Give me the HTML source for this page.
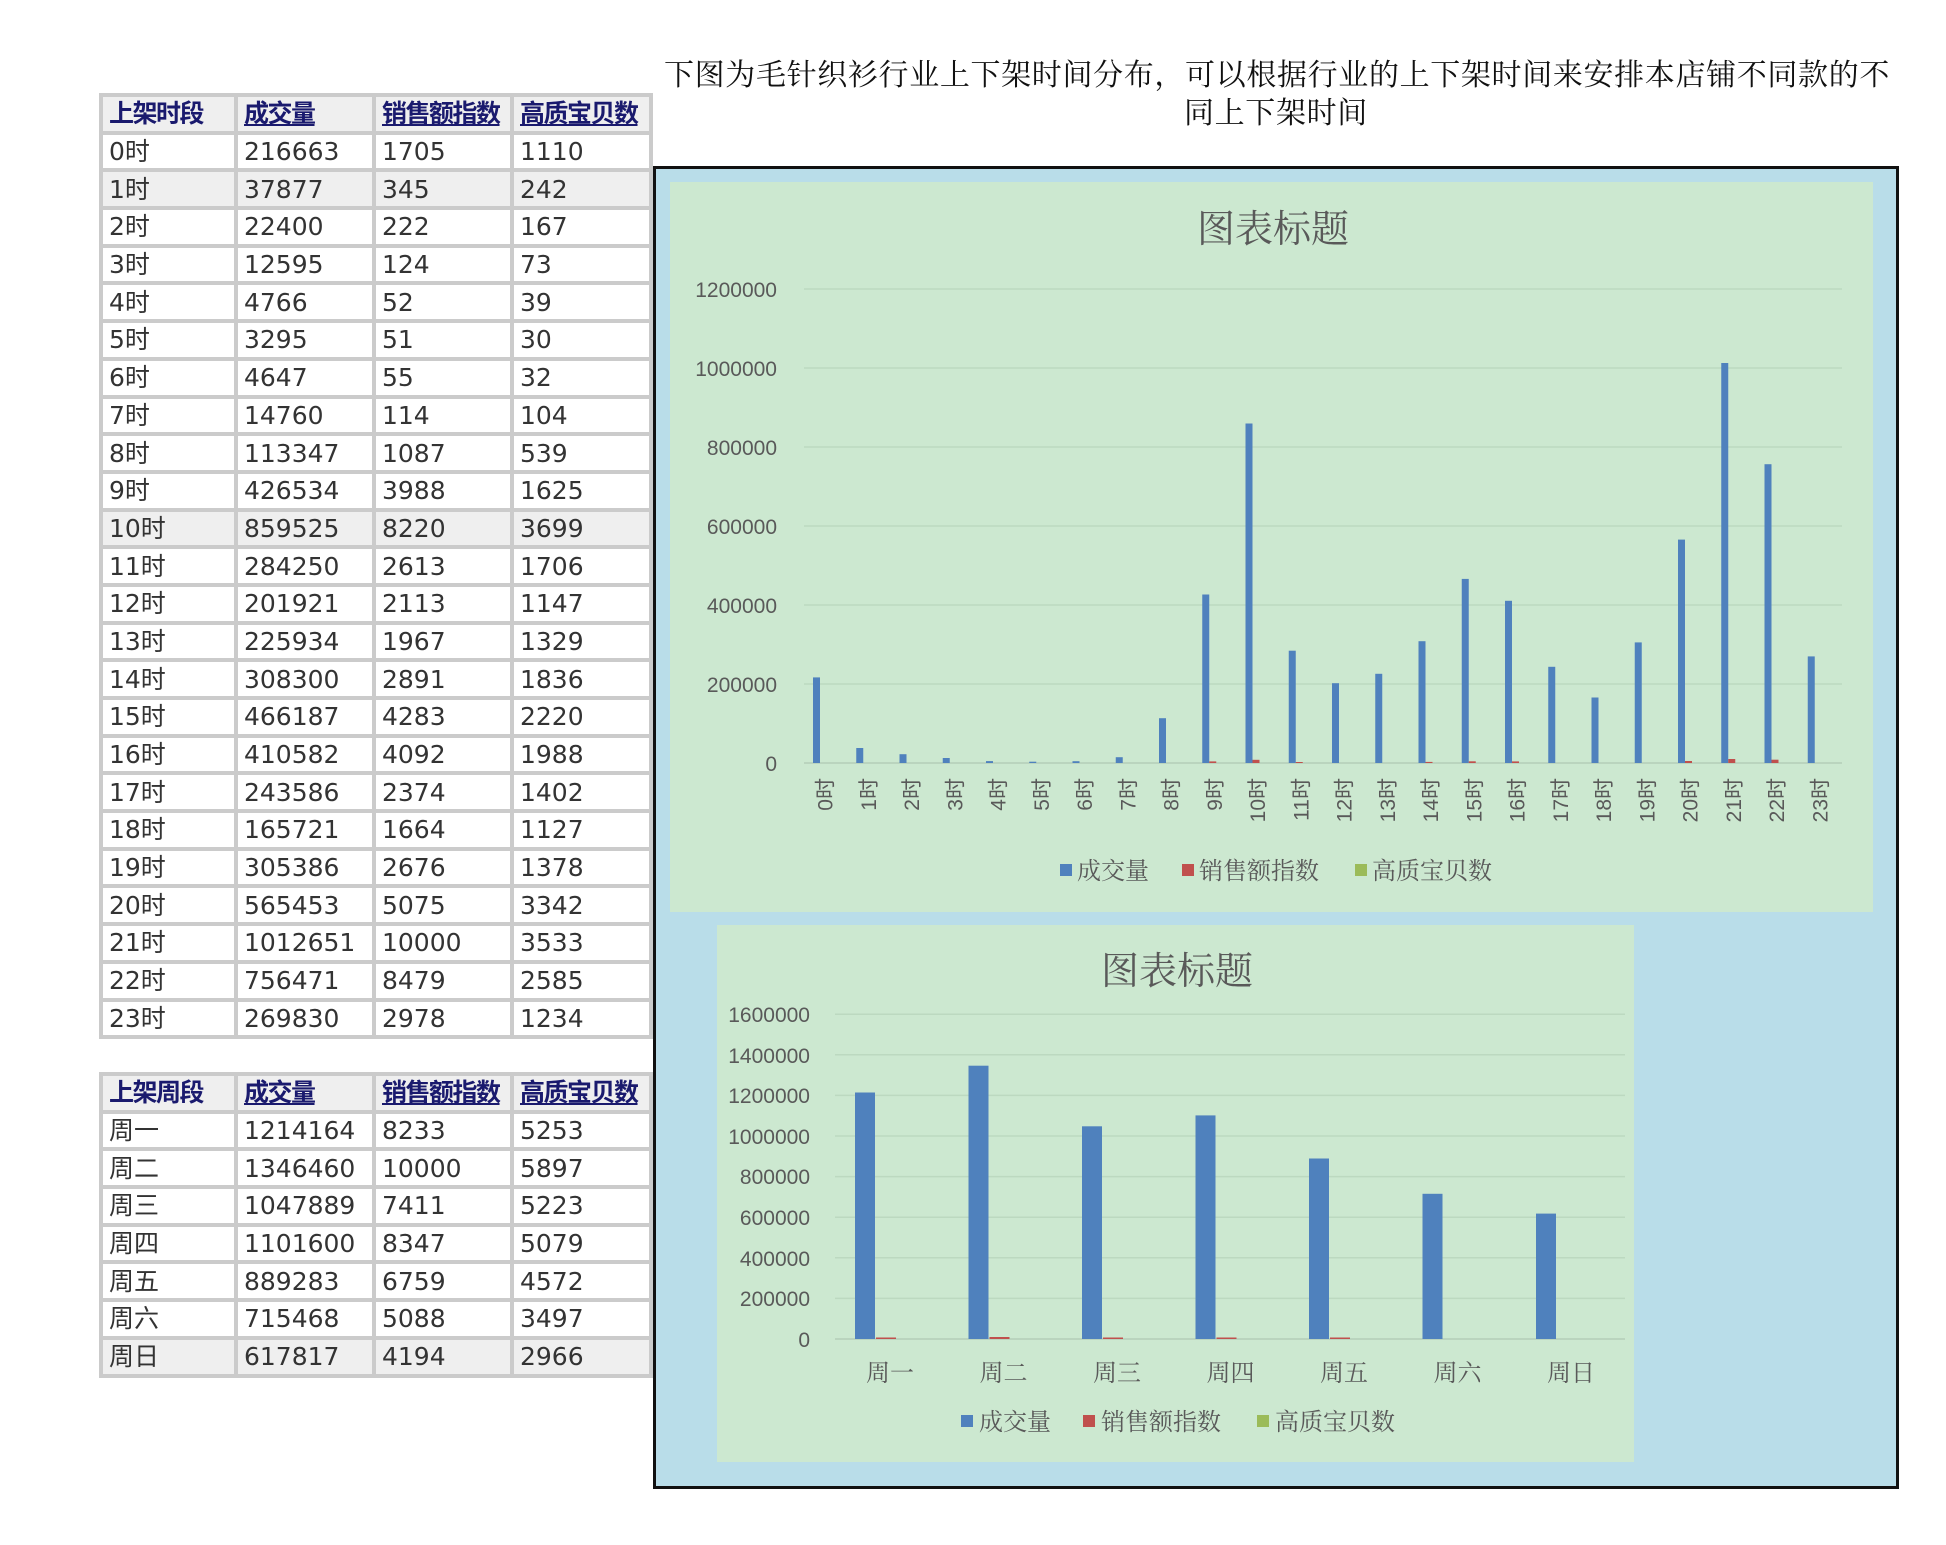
<!DOCTYPE html>
<html><head><meta charset="utf-8">
<style>
body{margin:0;width:1946px;height:1545px;background:#fff;position:relative;overflow:hidden;font-family:"DejaVu Sans","Noto Sans CJK SC",sans-serif;}
.hdr{position:absolute;font-family:"Liberation Serif","Noto Serif CJK SC",serif;font-size:30px;line-height:39px;letter-spacing:0.65px;color:#111;white-space:nowrap;}
.box{position:absolute;left:653px;top:166px;width:1240px;height:1317px;border:3px solid #111;background:#b9dde9;}
table{position:absolute;left:99px;border-collapse:separate;border-spacing:4px;background:#cbcbcb;table-layout:fixed;width:554px;}
td{background:#fff;height:33.7px;padding:0 0 0 6px;font-size:25px;color:#333;white-space:nowrap;overflow:hidden;line-height:33px;}
tr.g td{background:#efefef;}
th{background:#efefef;height:33.7px;padding:0 0 0 6px;text-align:left;font-size:25px;font-weight:bold;color:#1a1a6e;text-decoration:underline;white-space:nowrap;overflow:hidden;line-height:33px;letter-spacing:-1.5px;}
th:first-child{text-decoration:none;}
svg{position:absolute;left:0;top:0;}
</style></head><body>
<div class="hdr" style="left:664px;top:56px;">下图为毛针织衫行业上下架时间分布，可以根据行业的上下架时间来安排本店铺不同款的不</div>
<div class="hdr" style="left:1184px;top:94px;">同上下架时间</div>
<div class="box"></div>

<table style="top:93px;">
<colgroup><col style="width:131px"><col style="width:134px"><col style="width:134px"><col style="width:135px"></colgroup>
<tr><th>上架时段</th><th>成交量</th><th>销售额指数</th><th>高质宝贝数</th></tr>
<tr><td>0时</td><td>216663</td><td>1705</td><td>1110</td></tr>
<tr class="g"><td>1时</td><td>37877</td><td>345</td><td>242</td></tr>
<tr><td>2时</td><td>22400</td><td>222</td><td>167</td></tr>
<tr><td>3时</td><td>12595</td><td>124</td><td>73</td></tr>
<tr><td>4时</td><td>4766</td><td>52</td><td>39</td></tr>
<tr><td>5时</td><td>3295</td><td>51</td><td>30</td></tr>
<tr><td>6时</td><td>4647</td><td>55</td><td>32</td></tr>
<tr><td>7时</td><td>14760</td><td>114</td><td>104</td></tr>
<tr><td>8时</td><td>113347</td><td>1087</td><td>539</td></tr>
<tr><td>9时</td><td>426534</td><td>3988</td><td>1625</td></tr>
<tr class="g"><td>10时</td><td>859525</td><td>8220</td><td>3699</td></tr>
<tr><td>11时</td><td>284250</td><td>2613</td><td>1706</td></tr>
<tr><td>12时</td><td>201921</td><td>2113</td><td>1147</td></tr>
<tr><td>13时</td><td>225934</td><td>1967</td><td>1329</td></tr>
<tr><td>14时</td><td>308300</td><td>2891</td><td>1836</td></tr>
<tr><td>15时</td><td>466187</td><td>4283</td><td>2220</td></tr>
<tr><td>16时</td><td>410582</td><td>4092</td><td>1988</td></tr>
<tr><td>17时</td><td>243586</td><td>2374</td><td>1402</td></tr>
<tr><td>18时</td><td>165721</td><td>1664</td><td>1127</td></tr>
<tr><td>19时</td><td>305386</td><td>2676</td><td>1378</td></tr>
<tr><td>20时</td><td>565453</td><td>5075</td><td>3342</td></tr>
<tr><td>21时</td><td>1012651</td><td>10000</td><td>3533</td></tr>
<tr><td>22时</td><td>756471</td><td>8479</td><td>2585</td></tr>
<tr><td>23时</td><td>269830</td><td>2978</td><td>1234</td></tr>
</table>

<table style="top:1072px;">
<colgroup><col style="width:131px"><col style="width:134px"><col style="width:134px"><col style="width:135px"></colgroup>
<tr><th>上架周段</th><th>成交量</th><th>销售额指数</th><th>高质宝贝数</th></tr>
<tr><td>周一</td><td>1214164</td><td>8233</td><td>5253</td></tr>
<tr><td>周二</td><td>1346460</td><td>10000</td><td>5897</td></tr>
<tr><td>周三</td><td>1047889</td><td>7411</td><td>5223</td></tr>
<tr><td>周四</td><td>1101600</td><td>8347</td><td>5079</td></tr>
<tr><td>周五</td><td>889283</td><td>6759</td><td>4572</td></tr>
<tr><td>周六</td><td>715468</td><td>5088</td><td>3497</td></tr>
<tr class="g"><td>周日</td><td>617817</td><td>4194</td><td>2966</td></tr>
</table>

<svg width="1946" height="1545" viewBox="0 0 1946 1545" font-family="Liberation Sans, Noto Sans CJK SC, sans-serif">
<!-- chart 1 -->
<rect x="670" y="182" width="1203" height="730" fill="#cce8d0"/>
<text x="1273" y="242" font-size="38" fill="#595959" text-anchor="middle" font-family="Liberation Serif, Noto Serif CJK SC, serif">图表标题</text>
<g stroke="#bcd9c0" stroke-width="1.5">
<line x1="804" y1="289" x2="1842" y2="289"/><line x1="804" y1="368" x2="1842" y2="368"/><line x1="804" y1="447" x2="1842" y2="447"/><line x1="804" y1="526" x2="1842" y2="526"/><line x1="804" y1="605" x2="1842" y2="605"/><line x1="804" y1="684" x2="1842" y2="684"/><line x1="804" y1="763" x2="1842" y2="763" stroke="#b4ceb8"/>
</g>
<g font-size="21" fill="#595959" text-anchor="end">
<text x="777" y="297">1200000</text><text x="777" y="376">1000000</text><text x="777" y="455">800000</text><text x="777" y="534">600000</text><text x="777" y="613">400000</text><text x="777" y="692">200000</text><text x="777" y="771">0</text>
</g>
<g fill="#4f81bd">
<rect x="813" y="677.4" width="7" height="85.6"/>
<rect x="856.25" y="748" width="7" height="15"/>
<rect x="899.5" y="754.2" width="7" height="8.8"/>
<rect x="942.75" y="758" width="7" height="5"/>
<rect x="986" y="761.1" width="7" height="1.9"/>
<rect x="1029.25" y="761.7" width="7" height="1.3"/>
<rect x="1072.5" y="761.2" width="7" height="1.8"/>
<rect x="1115.75" y="757.2" width="7" height="5.8"/>
<rect x="1159" y="718.2" width="7" height="44.8"/>
<rect x="1202.25" y="594.5" width="7" height="168.5"/>
<rect x="1245.5" y="423.5" width="7" height="339.5"/>
<rect x="1288.75" y="650.7" width="7" height="112.3"/>
<rect x="1332" y="683.2" width="7" height="79.8"/>
<rect x="1375.25" y="673.8" width="7" height="89.2"/>
<rect x="1418.5" y="641.2" width="7" height="121.8"/>
<rect x="1461.75" y="578.9" width="7" height="184.1"/>
<rect x="1505" y="600.8" width="7" height="162.2"/>
<rect x="1548.25" y="666.8" width="7" height="96.2"/>
<rect x="1591.5" y="697.5" width="7" height="65.5"/>
<rect x="1634.75" y="642.4" width="7" height="120.6"/>
<rect x="1678" y="539.6" width="7" height="223.4"/>
<rect x="1721.25" y="363" width="7" height="400"/>
<rect x="1764.5" y="464.2" width="7" height="298.8"/>
<rect x="1807.75" y="656.4" width="7" height="106.6"/>
</g>
<g fill="#c0504d">
<rect x="1209.25" y="761.4" width="7" height="1.6"/>
<rect x="1252.5" y="759.8" width="7" height="3.2"/>
<rect x="1295.75" y="762" width="7" height="1"/>
<rect x="1425.5" y="761.9" width="7" height="1.1"/>
<rect x="1468.75" y="761.3" width="7" height="1.7"/>
<rect x="1512" y="761.4" width="7" height="1.6"/>
<rect x="1685" y="761" width="7" height="2"/>
<rect x="1728.25" y="759" width="7" height="4"/>
<rect x="1771.5" y="759.7" width="7" height="3.3"/>
</g>
<g font-size="21" fill="#595959" text-anchor="end">
<text transform="translate(832.6,778) rotate(-90)">0时</text>
<text transform="translate(875.9,778) rotate(-90)">1时</text>
<text transform="translate(919.1,778) rotate(-90)">2时</text>
<text transform="translate(962.4,778) rotate(-90)">3时</text>
<text transform="translate(1005.6,778) rotate(-90)">4时</text>
<text transform="translate(1048.9,778) rotate(-90)">5时</text>
<text transform="translate(1092.1,778) rotate(-90)">6时</text>
<text transform="translate(1135.4,778) rotate(-90)">7时</text>
<text transform="translate(1178.6,778) rotate(-90)">8时</text>
<text transform="translate(1221.9,778) rotate(-90)">9时</text>
<text transform="translate(1265.1,778) rotate(-90)">10时</text>
<text transform="translate(1308.4,778) rotate(-90)">11时</text>
<text transform="translate(1351.6,778) rotate(-90)">12时</text>
<text transform="translate(1394.9,778) rotate(-90)">13时</text>
<text transform="translate(1438.1,778) rotate(-90)">14时</text>
<text transform="translate(1481.4,778) rotate(-90)">15时</text>
<text transform="translate(1524.6,778) rotate(-90)">16时</text>
<text transform="translate(1567.9,778) rotate(-90)">17时</text>
<text transform="translate(1611.1,778) rotate(-90)">18时</text>
<text transform="translate(1654.4,778) rotate(-90)">19时</text>
<text transform="translate(1697.6,778) rotate(-90)">20时</text>
<text transform="translate(1740.9,778) rotate(-90)">21时</text>
<text transform="translate(1784.1,778) rotate(-90)">22时</text>
<text transform="translate(1827.4,778) rotate(-90)">23时</text>
</g>
<g font-size="24" fill="#595959" font-family="Liberation Serif, Noto Serif CJK SC, serif">
<rect x="1060" y="864" width="12" height="12" fill="#4f81bd"/><text x="1077" y="879">成交量</text>
<rect x="1182" y="864" width="12" height="12" fill="#c0504d"/><text x="1199" y="879">销售额指数</text>
<rect x="1355" y="864" width="12" height="12" fill="#9bbb59"/><text x="1372" y="879">高质宝贝数</text>
</g>

<!-- chart 2 -->
<rect x="717" y="925" width="917" height="537" fill="#cce8d0"/>
<text x="1177" y="984" font-size="38" fill="#595959" text-anchor="middle" font-family="Liberation Serif, Noto Serif CJK SC, serif">图表标题</text>
<g stroke="#bcd9c0" stroke-width="1.5">
<line x1="835" y1="1014.2" x2="1625" y2="1014.2"/><line x1="835" y1="1054.8" x2="1625" y2="1054.8"/><line x1="835" y1="1095.4" x2="1625" y2="1095.4"/><line x1="835" y1="1136" x2="1625" y2="1136"/><line x1="835" y1="1176.6" x2="1625" y2="1176.6"/><line x1="835" y1="1217.2" x2="1625" y2="1217.2"/><line x1="835" y1="1257.8" x2="1625" y2="1257.8"/><line x1="835" y1="1298.4" x2="1625" y2="1298.4"/><line x1="835" y1="1339" x2="1625" y2="1339" stroke="#b4ceb8"/>
</g>
<g font-size="21" fill="#595959" text-anchor="end">
<text x="810" y="1022">1600000</text><text x="810" y="1063">1400000</text><text x="810" y="1103">1200000</text><text x="810" y="1144">1000000</text><text x="810" y="1184">800000</text><text x="810" y="1225">600000</text><text x="810" y="1266">400000</text><text x="810" y="1306">200000</text><text x="810" y="1347">0</text>
</g>
<g fill="#4f81bd">
<rect x="855" y="1092.5" width="20" height="246.5"/>
<rect x="968.5" y="1065.7" width="20" height="273.3"/>
<rect x="1082" y="1126.3" width="20" height="212.7"/>
<rect x="1195.5" y="1115.4" width="20" height="223.6"/>
<rect x="1309" y="1158.5" width="20" height="180.5"/>
<rect x="1422.5" y="1193.8" width="20" height="145.2"/>
<rect x="1536" y="1213.6" width="20" height="125.4"/>
</g>
<g fill="#c0504d">
<rect x="876" y="1337.5" width="20" height="1.5"/>
<rect x="989.5" y="1337" width="20" height="2"/>
<rect x="1103" y="1337.5" width="20" height="1.5"/>
<rect x="1216.5" y="1337.5" width="20" height="1.5"/>
<rect x="1330" y="1337.5" width="20" height="1.5"/>
</g>
<g font-size="24" fill="#595959" text-anchor="middle" font-family="Liberation Serif, Noto Serif CJK SC, serif">
<text x="890" y="1381">周一</text><text x="1003.5" y="1381">周二</text><text x="1117" y="1381">周三</text><text x="1230.5" y="1381">周四</text><text x="1344" y="1381">周五</text><text x="1457.5" y="1381">周六</text><text x="1571" y="1381">周日</text>
</g>
<g font-size="24" fill="#595959" font-family="Liberation Serif, Noto Serif CJK SC, serif">
<rect x="961" y="1415" width="12" height="12" fill="#4f81bd"/><text x="979" y="1430">成交量</text>
<rect x="1083" y="1415" width="12" height="12" fill="#c0504d"/><text x="1101" y="1430">销售额指数</text>
<rect x="1257" y="1415" width="12" height="12" fill="#9bbb59"/><text x="1275" y="1430">高质宝贝数</text>
</g>
</svg>
</body></html>
